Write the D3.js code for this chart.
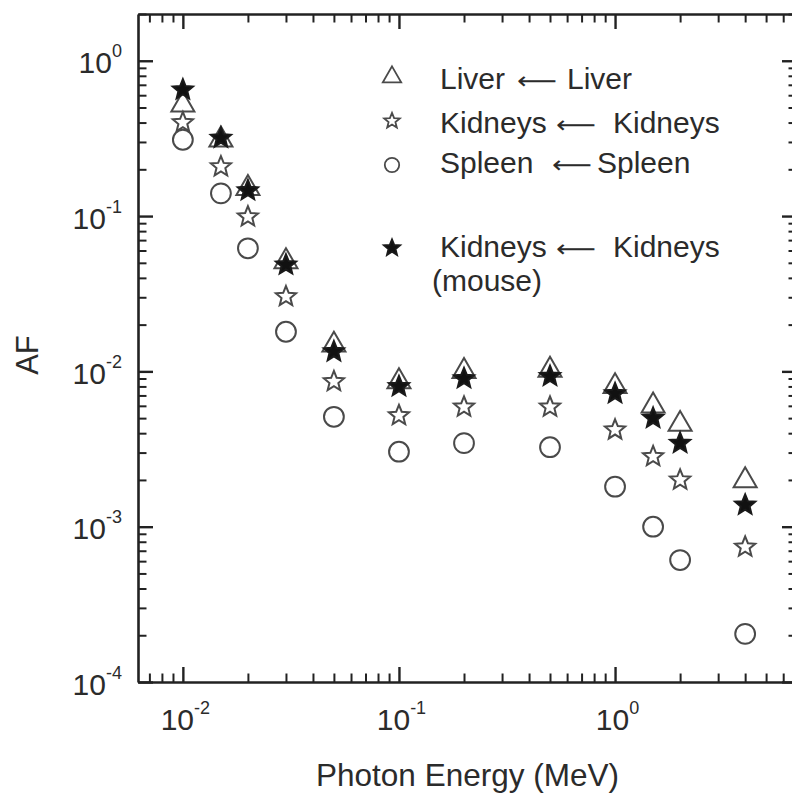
<!DOCTYPE html>
<html>
<head>
<meta charset="utf-8">
<script src="https://cdn.jsdelivr.net/npm/d3@7"></script>
<style>
  html, body { margin: 0; padding: 0; background: #fff; }
  svg { display: block; }
  text { font-family: "Liberation Sans", Arial, Helvetica, sans-serif; fill: #2b2b2b; }
</style>
</head>
<body>
<svg id="chart" width="792" height="797"></svg>
<script>
// Photon energies (MeV)
const energy = [0.01, 0.015, 0.02, 0.03, 0.05, 0.1, 0.2, 0.5, 1, 1.5, 2, 4];

// Absorbed fractions, self-irradiation
const liverAF   = [0.52, 0.31, 0.151, 0.051, 0.0148, 0.0086, 0.0100, 0.0102, 0.0080, 0.0060, 0.00457, 0.00198];
const kidneysAF = [0.40, 0.208, 0.099, 0.0303, 0.0086, 0.0052, 0.0059, 0.0059, 0.0042, 0.00283, 0.0020, 0.00074];
const spleenAF  = [0.31, 0.14, 0.062, 0.018, 0.0051, 0.00304, 0.00345, 0.00325, 0.00181, 0.0010, 0.00061, 0.000204];
const mouseKidneysAF = [0.65, 0.318, 0.146, 0.0485, 0.0134, 0.0080, 0.0090, 0.0093, 0.0072, 0.0050, 0.00345, 0.00138];

// Axis ticks and labels
const xMajorTicks = [0.01, 0.1, 1];
const xTickExponents = ["-2", "-1", "0"];
const yMajorTicks = [1e-4, 1e-3, 1e-2, 1e-1, 1];
const yTickExponents = ["-4", "-3", "-2", "-1", "0"];

const xTitle = "Photon Energy (MeV)";
const yTitle = "AF";

// Legend entries: [source, target]
const legendLabels = [
  ["Liver", "Liver"],
  ["Kidneys", "Kidneys"],
  ["Spleen", "Spleen"],
  ["Kidneys", "Kidneys"]
];
const legendNote = "(mouse)";

// ---------------------------------------------------------------
const svg = d3.select("#chart");
const frame = { left: 138, right: 797, top: 14, bottom: 682 };

const x = d3.scaleLog().domain([0.0062, 6.95]).range([frame.left, frame.right]);
const y = d3.scaleLog().domain([1e-4, 2]).range([frame.bottom, frame.top]);

// Marker shapes; size is the squared outer radius
const starShape = inner => ({
  draw(ctx, size) {
    const R = Math.sqrt(size), r = R * inner;
    for (let i = 0; i < 10; i++) {
      const a = -Math.PI / 2 + i * Math.PI / 5;
      const rad = i % 2 ? r : R;
      const px = rad * Math.cos(a), py = rad * Math.sin(a);
      if (i === 0) ctx.moveTo(px, py); else ctx.lineTo(px, py);
    }
    ctx.closePath();
  }
});
const triangleShape = {
  draw(ctx, size) {
    const R = Math.sqrt(size), s = Math.sqrt(3) / 2;
    ctx.moveTo(0, -R);
    ctx.lineTo(R * s, R / 2);
    ctx.lineTo(-R * s, R / 2);
    ctx.closePath();
  }
};
const circleShape = {
  draw(ctx, size) {
    const R = Math.sqrt(size);
    ctx.moveTo(R, 0);
    ctx.arc(0, 0, R, 0, 2 * Math.PI);
  }
};

const series = [
  { values: liverAF, shape: triangleShape, r: 13.3, lr: 10.6, fill: "none", stroke: "#4a4a4a" },
  { values: kidneysAF, shape: starShape(0.44), r: 10.6, lr: 8.2, fill: "none", stroke: "#4a4a4a" },
  { values: spleenAF, shape: circleShape, r: 9.9, lr: 7.2, fill: "none", stroke: "#4a4a4a" },
  { values: mouseKidneysAF, shape: starShape(0.44), r: 10.6, lr: 8.6, fill: "#111", stroke: "#1a1a1a" }
];

// ---------------------------------------------------------------
// Axes: ticks point inward on all four sides
function styleAxis(g, major) {
  g.select(".domain").attr("stroke", "#222").attr("stroke-width", 2.6);
  g.selectAll(".tick line").attr("stroke", "#222").attr("stroke-width", major ? 2.4 : 2);
  if (!major) g.select(".domain").remove();
}

const xMinor = x.ticks().filter(v => !xMajorTicks.some(m => Math.abs(m - v) / m < 1e-9));
const yMinor = y.ticks().filter(v => !yMajorTicks.some(m => Math.abs(m - v) / m < 1e-9));

const axes = [
  { axis: d3.axisBottom, scale: x, major: xMajorTicks, minor: xMinor, t: `translate(0,${frame.bottom})` },
  { axis: d3.axisTop, scale: x, major: xMajorTicks, minor: xMinor, t: `translate(0,${frame.top})` },
  { axis: d3.axisLeft, scale: y, major: yMajorTicks, minor: yMinor, t: `translate(${frame.left},0)` },
  { axis: d3.axisRight, scale: y, major: yMajorTicks, minor: yMinor, t: `translate(${frame.right},0)` }
];

axes.forEach(a => {
  svg.append("g").attr("transform", a.t)
    .call(a.axis(a.scale).tickValues(a.minor).tickSizeInner(-8.5).tickSizeOuter(0).tickFormat(""))
    .call(g => styleAxis(g, false));
  svg.append("g").attr("transform", a.t)
    .call(a.axis(a.scale).tickValues(a.major).tickSizeInner(-15).tickSizeOuter(0).tickFormat(""))
    .call(g => styleAxis(g, true));
});

// Power-of-ten tick labels
function powerLabel(sel, exponent) {
  sel.text(null);
  sel.append("tspan").text("10");
  sel.append("tspan").attr("dy", -16).style("font-size", "18px").text(exponent);
}

const xLabels = svg.append("g").attr("transform", `translate(0,${frame.bottom})`)
  .call(d3.axisBottom(x).tickValues(xMajorTicks).tickSize(0).tickPadding(0).tickFormat((d, i) => xTickExponents[i]));
xLabels.select(".domain").remove();
xLabels.selectAll(".tick text")
  .attr("y", 48).attr("dy", 0).attr("x", 2)
  .style("font-size", "30px").style("font-family", null).attr("fill", null)
  .each(function(d, i) { powerLabel(d3.select(this), xTickExponents[i]); });

const yLabels = svg.append("g").attr("transform", `translate(${frame.left},0)`)
  .call(d3.axisLeft(y).tickValues(yMajorTicks).tickSize(0).tickPadding(16).tickFormat((d, i) => yTickExponents[i]));
yLabels.select(".domain").remove();
yLabels.selectAll(".tick text")
  .attr("dy", 12)
  .style("font-size", "30px").style("font-family", null).attr("fill", null)
  .each(function(d, i) { powerLabel(d3.select(this), yTickExponents[i]); });

// Axis titles
svg.append("text")
  .attr("x", (frame.left + frame.right) / 2).attr("y", 786)
  .attr("text-anchor", "middle").style("font-size", "31.5px")
  .text(xTitle);

svg.append("text")
  .attr("transform", "translate(38,355) rotate(-90)")
  .attr("text-anchor", "middle").style("font-size", "31px")
  .text(yTitle);

// ---------------------------------------------------------------
// Data markers
series.forEach(s => {
  const sym = d3.symbol().type(s.shape).size(s.r * s.r);
  svg.append("g").selectAll("path")
    .data(energy.map((e, i) => [e, s.values[i]]))
    .join("path")
    .attr("transform", d => `translate(${x(d[0])},${y(d[1])})`)
    .attr("d", sym)
    .attr("fill", s.fill)
    .attr("stroke", s.stroke)
    .attr("stroke-width", 2)
    .attr("stroke-linejoin", "miter");
});

// ---------------------------------------------------------------
// Legend
const legendRows = [
  { cy: 77, base: 89, arrowX: 517, rightX: 567 },
  { cy: 121, base: 133, arrowX: 556, rightX: 613 },
  { cy: 165, base: 173, arrowX: 552, rightX: 597 },
  { cy: 248, base: 257, arrowX: 556, rightX: 613 }
];
const legend = svg.append("g");
legendRows.forEach((row, i) => {
  const s = series[i];
  legend.append("path")
    .attr("transform", `translate(392,${row.cy})`)
    .attr("d", d3.symbol().type(s.shape).size(s.lr * s.lr))
    .attr("fill", s.fill).attr("stroke", s.stroke).attr("stroke-width", 1.8);
  const t = legend.append("text").attr("y", row.base).style("font-size", "30px");
  t.append("tspan").attr("x", 440).text(legendLabels[i][0]);
  t.append("tspan").attr("x", row.arrowX)
    .style("font-family", "'DejaVu Sans', sans-serif").style("font-size", "24px")
    .attr("textLength", 40).attr("lengthAdjust", "spacingAndGlyphs")
    .text("\u27F5");
  t.append("tspan").attr("x", row.rightX).text(legendLabels[i][1]);
});
legend.append("text").attr("x", 432).attr("y", 291).style("font-size", "30px").text(legendNote);
</script>
</body>
</html>
